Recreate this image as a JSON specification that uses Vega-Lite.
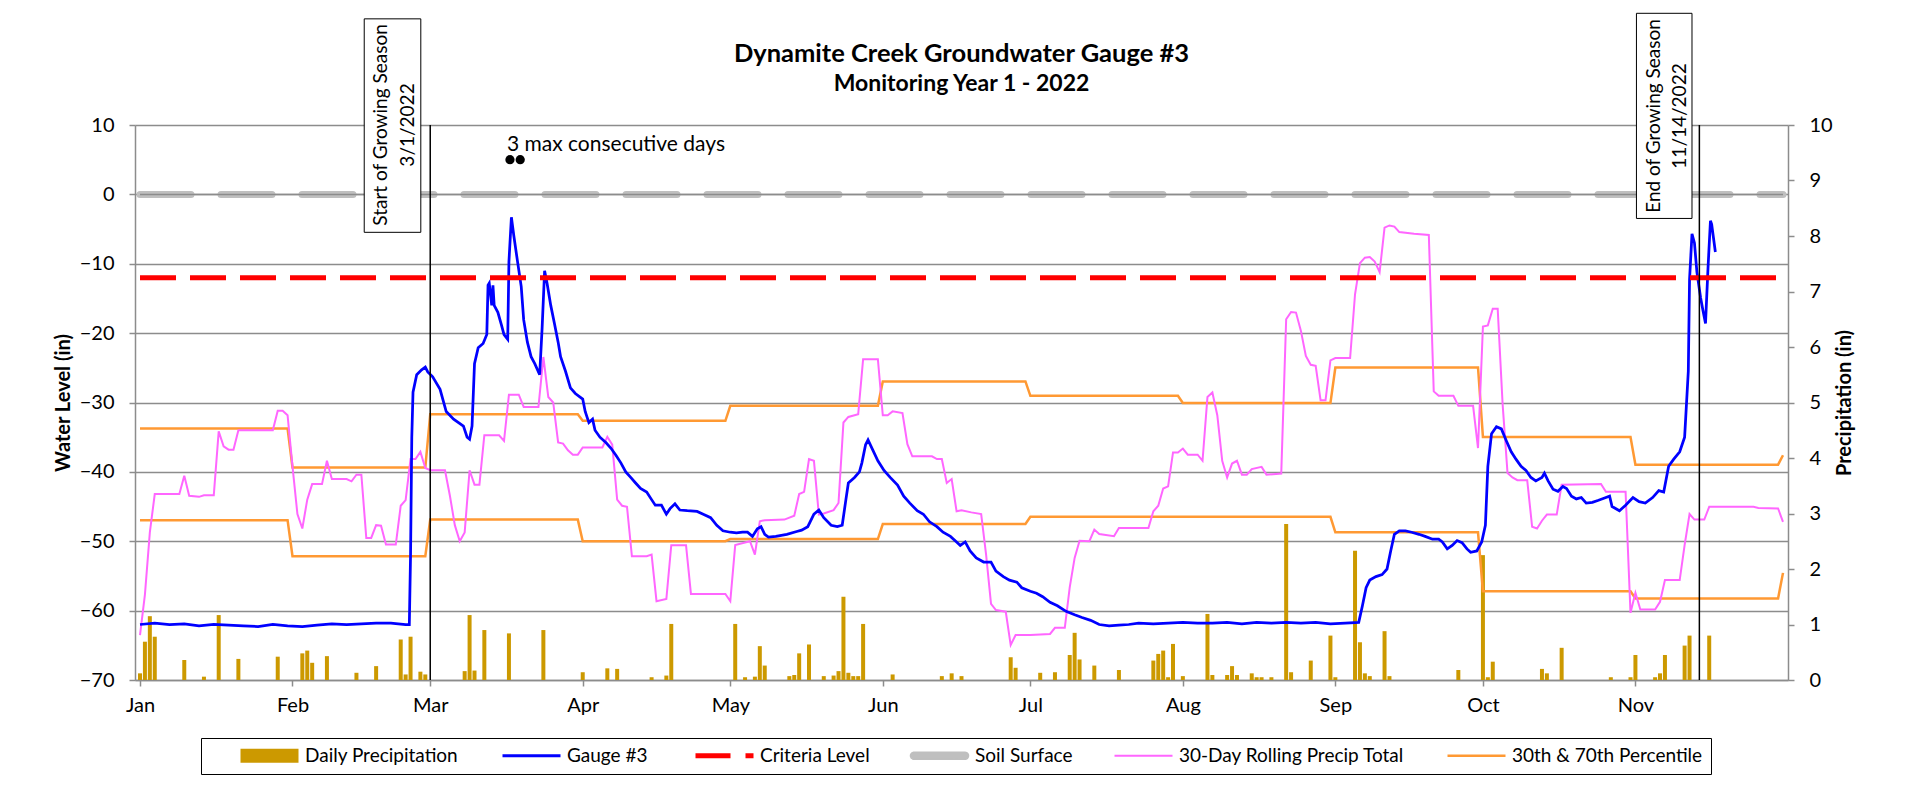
{
  "$schema": "https://vega.github.io/schema/vega-lite/v6.json",
  "width": 1653,
  "height": 555,
  "autosize": {"type": "none"},
  "padding": {"left": 135, "top": 125, "right": 143, "bottom": 108},
  "background": "white",
  "config": {"view": {"stroke": null}, "font": "Lato"},
  "title": {
    "text": "Dynamite Creek Groundwater Gauge #3",
    "subtitle": "Monitoring Year 1 - 2022",
    "anchor": "middle", "frame": "group",
    "font": "Lato", "fontSize": 25.5, "fontWeight": "bold", "color": "black",
    "subtitleFont": "Lato", "subtitleFontSize": 23, "subtitleFontWeight": "bold", "subtitleColor": "black",
    "subtitlePadding": 5, "offset": 0, "dy": 83
  },
  "datasets": {
    "gauge": [
      {"date":"2022-01-01T00:00Z","level":-62.0},{"date":"2022-01-04T00:00Z","level":-61.8},{"date":"2022-01-07T00:00Z","level":-62.0},{"date":"2022-01-10T00:00Z","level":-61.9},{"date":"2022-01-13T00:00Z","level":-62.2},{"date":"2022-01-16T00:00Z","level":-62.0},{"date":"2022-01-19T00:00Z","level":-62.1},{"date":"2022-01-22T00:00Z","level":-62.2},{"date":"2022-01-25T00:00Z","level":-62.3},{"date":"2022-01-28T00:00Z","level":-62.0},{"date":"2022-01-31T00:00Z","level":-62.2},{"date":"2022-02-03T00:00Z","level":-62.3},{"date":"2022-02-06T00:00Z","level":-62.1},{"date":"2022-02-09T00:00Z","level":-61.9},{"date":"2022-02-12T00:00Z","level":-62.0},{"date":"2022-02-15T00:00Z","level":-61.9},{"date":"2022-02-18T00:00Z","level":-61.8},{"date":"2022-02-21T00:00Z","level":-61.8},{"date":"2022-02-24T00:00Z","level":-62.0},{"date":"2022-02-24T18:00Z","level":-62.0},
      {"date":"2022-02-25T00:00Z","level":-52.0},{"date":"2022-02-25T06:00Z","level":-35.0},{"date":"2022-02-25T12:00Z","level":-28.5},{"date":"2022-02-26T06:00Z","level":-26.0},{"date":"2022-02-27T06:00Z","level":-25.3},{"date":"2022-02-28T00:00Z","level":-24.9},{"date":"2022-02-28T12:00Z","level":-25.6},{"date":"2022-03-01T12:00Z","level":-26.3},{"date":"2022-03-03T00:00Z","level":-28.1},{"date":"2022-03-04T06:00Z","level":-31.3},{"date":"2022-03-05T18:00Z","level":-32.4},{"date":"2022-03-07T18:00Z","level":-33.4},{"date":"2022-03-08T12:00Z","level":-35.0},{"date":"2022-03-09T00:00Z","level":-35.3},{"date":"2022-03-09T12:00Z","level":-33.4},{"date":"2022-03-10T00:00Z","level":-24.4},{"date":"2022-03-10T18:00Z","level":-22.1},{"date":"2022-03-11T18:00Z","level":-21.5},{"date":"2022-03-12T12:00Z","level":-20.2},{"date":"2022-03-12T18:00Z","level":-13.1},{"date":"2022-03-13T00:00Z","level":-12.8},{"date":"2022-03-13T12:00Z","level":-16.0},{"date":"2022-03-13T18:00Z","level":-13.1},{"date":"2022-03-14T00:00Z","level":-16.0},{"date":"2022-03-14T18:00Z","level":-17.0},{"date":"2022-03-15T12:00Z","level":-18.9},{"date":"2022-03-16T00:00Z","level":-20.2},{"date":"2022-03-16T18:00Z","level":-20.9},{"date":"2022-03-17T00:00Z","level":-9.7},{"date":"2022-03-17T12:00Z","level":-3.3},{"date":"2022-03-18T00:00Z","level":-6.0},{"date":"2022-03-18T18:00Z","level":-9.7},{"date":"2022-03-19T12:00Z","level":-13.3},{"date":"2022-03-20T00:00Z","level":-18.1},{"date":"2022-03-20T18:00Z","level":-21.3},{"date":"2022-03-21T12:00Z","level":-23.4},{"date":"2022-03-22T06:00Z","level":-24.4},{"date":"2022-03-23T06:00Z","level":-26.0},{"date":"2022-03-23T18:00Z","level":-19.2},{"date":"2022-03-24T06:00Z","level":-11.0},{"date":"2022-03-24T18:00Z","level":-12.8},{"date":"2022-03-25T12:00Z","level":-16.0},{"date":"2022-03-26T06:00Z","level":-18.6},{"date":"2022-03-27T00:00Z","level":-21.3},{"date":"2022-03-27T12:00Z","level":-23.4},{"date":"2022-03-28T12:00Z","level":-25.5},{"date":"2022-03-29T12:00Z","level":-27.9},{"date":"2022-03-30T12:00Z","level":-28.7},{"date":"2022-04-01T00:00Z","level":-29.5},{"date":"2022-04-01T12:00Z","level":-31.3},{"date":"2022-04-02T06:00Z","level":-32.9},{"date":"2022-04-03T00:00Z","level":-32.4},{"date":"2022-04-03T12:00Z","level":-34.0},{"date":"2022-04-04T12:00Z","level":-35.0},{"date":"2022-04-05T18:00Z","level":-35.8},{"date":"2022-04-06T18:00Z","level":-36.6},{"date":"2022-04-07T18:00Z","level":-37.6},{"date":"2022-04-08T18:00Z","level":-38.7},{"date":"2022-04-09T18:00Z","level":-40.0},{"date":"2022-04-10T18:00Z","level":-40.8},{"date":"2022-04-11T18:00Z","level":-41.6},{"date":"2022-04-12T18:00Z","level":-42.4},{"date":"2022-04-14T00:00Z","level":-42.9},{"date":"2022-04-15T00:00Z","level":-44.0},{"date":"2022-04-15T18:00Z","level":-44.8},{"date":"2022-04-17T00:00Z","level":-44.8},{"date":"2022-04-18T00:00Z","level":-46.1},{"date":"2022-04-18T18:00Z","level":-45.3},{"date":"2022-04-19T18:00Z","level":-44.6},{"date":"2022-04-20T18:00Z","level":-45.5},{"date":"2022-04-22T06:00Z","level":-45.6},{"date":"2022-04-24T06:00Z","level":-45.7},{"date":"2022-04-25T12:00Z","level":-46.1},{"date":"2022-04-27T00:00Z","level":-46.6},{"date":"2022-04-28T06:00Z","level":-47.7},{"date":"2022-04-29T12:00Z","level":-48.5},{"date":"2022-05-01T00:00Z","level":-48.7},{"date":"2022-05-02T06:00Z","level":-48.8},{"date":"2022-05-03T12:00Z","level":-48.7},{"date":"2022-05-04T12:00Z","level":-48.7},{"date":"2022-05-05T12:00Z","level":-49.3},{"date":"2022-05-06T12:00Z","level":-48.2},{"date":"2022-05-07T06:00Z","level":-47.9},{"date":"2022-05-08T00:00Z","level":-49.0},{"date":"2022-05-08T18:00Z","level":-49.4},{"date":"2022-05-10T06:00Z","level":-49.3},{"date":"2022-05-12T12:00Z","level":-49.0},{"date":"2022-05-14T12:00Z","level":-48.6},{"date":"2022-05-15T12:00Z","level":-48.4},{"date":"2022-05-16T18:00Z","level":-47.9},{"date":"2022-05-18T00:00Z","level":-46.1},{"date":"2022-05-19T00:00Z","level":-45.5},{"date":"2022-05-20T00:00Z","level":-46.6},{"date":"2022-05-21T12:00Z","level":-47.7},{"date":"2022-05-22T18:00Z","level":-47.9},{"date":"2022-05-23T18:00Z","level":-47.7},{"date":"2022-05-24T12:00Z","level":-44.0},{"date":"2022-05-25T00:00Z","level":-41.6},{"date":"2022-05-26T06:00Z","level":-40.8},{"date":"2022-05-27T06:00Z","level":-40.0},{"date":"2022-05-27T18:00Z","level":-38.7},{"date":"2022-05-28T12:00Z","level":-36.1},{"date":"2022-05-29T00:00Z","level":-35.4},{"date":"2022-05-30T00:00Z","level":-36.9},{"date":"2022-05-31T00:00Z","level":-38.4},{"date":"2022-06-01T06:00Z","level":-39.8},{"date":"2022-06-02T12:00Z","level":-40.8},{"date":"2022-06-04T00:00Z","level":-41.9},{"date":"2022-06-05T06:00Z","level":-43.5},{"date":"2022-06-06T12:00Z","level":-44.5},{"date":"2022-06-08T00:00Z","level":-45.6},{"date":"2022-06-09T06:00Z","level":-46.1},{"date":"2022-06-10T12:00Z","level":-47.2},{"date":"2022-06-12T00:00Z","level":-47.9},{"date":"2022-06-13T06:00Z","level":-48.7},{"date":"2022-06-14T18:00Z","level":-49.3},{"date":"2022-06-16T00:00Z","level":-50.1},{"date":"2022-06-16T18:00Z","level":-50.6},{"date":"2022-06-17T18:00Z","level":-50.1},{"date":"2022-06-18T18:00Z","level":-51.4},{"date":"2022-06-20T00:00Z","level":-52.4},{"date":"2022-06-21T12:00Z","level":-53.0},{"date":"2022-06-23T00:00Z","level":-53.0},{"date":"2022-06-24T00:00Z","level":-54.3},{"date":"2022-06-25T12:00Z","level":-55.1},{"date":"2022-06-26T18:00Z","level":-55.6},{"date":"2022-06-28T06:00Z","level":-55.9},{"date":"2022-06-29T06:00Z","level":-56.7},{"date":"2022-07-01T00:00Z","level":-57.2},{"date":"2022-07-02T06:00Z","level":-57.5},{"date":"2022-07-03T12:00Z","level":-58.0},{"date":"2022-07-05T00:00Z","level":-58.8},{"date":"2022-07-06T12:00Z","level":-59.3},{"date":"2022-07-08T06:00Z","level":-60.1},{"date":"2022-07-10T00:00Z","level":-60.6},{"date":"2022-07-11T12:00Z","level":-61.0},{"date":"2022-07-13T06:00Z","level":-61.4},{"date":"2022-07-15T00:00Z","level":-62.0},{"date":"2022-07-17T00:00Z","level":-62.2},{"date":"2022-07-19T00:00Z","level":-62.1},{"date":"2022-07-21T00:00Z","level":-62.0},{"date":"2022-07-23T00:00Z","level":-61.8},{"date":"2022-07-26T00:00Z","level":-61.9},{"date":"2022-07-29T00:00Z","level":-61.8},{"date":"2022-08-01T00:00Z","level":-61.7},{"date":"2022-08-04T00:00Z","level":-61.8},{"date":"2022-08-07T00:00Z","level":-61.8},{"date":"2022-08-10T00:00Z","level":-61.7},{"date":"2022-08-13T00:00Z","level":-61.9},{"date":"2022-08-16T00:00Z","level":-61.7},{"date":"2022-08-19T00:00Z","level":-61.8},{"date":"2022-08-22T00:00Z","level":-61.7},{"date":"2022-08-25T00:00Z","level":-61.8},{"date":"2022-08-28T00:00Z","level":-61.7},{"date":"2022-08-31T00:00Z","level":-61.9},{"date":"2022-09-03T00:00Z","level":-61.8},{"date":"2022-09-05T18:00Z","level":-61.7},{"date":"2022-09-06T12:00Z","level":-59.3},{"date":"2022-09-07T06:00Z","level":-56.7},{"date":"2022-09-08T00:00Z","level":-55.6},{"date":"2022-09-09T06:00Z","level":-55.1},{"date":"2022-09-10T12:00Z","level":-54.8},{"date":"2022-09-11T12:00Z","level":-54.0},{"date":"2022-09-12T06:00Z","level":-51.4},{"date":"2022-09-13T00:00Z","level":-49.0},{"date":"2022-09-14T00:00Z","level":-48.5},{"date":"2022-09-15T06:00Z","level":-48.5},{"date":"2022-09-16T12:00Z","level":-48.7},{"date":"2022-09-18T00:00Z","level":-49.0},{"date":"2022-09-19T06:00Z","level":-49.3},{"date":"2022-09-20T18:00Z","level":-49.7},{"date":"2022-09-22T00:00Z","level":-49.7},{"date":"2022-09-22T18:00Z","level":-50.1},{"date":"2022-09-23T18:00Z","level":-51.1},{"date":"2022-09-24T18:00Z","level":-50.6},{"date":"2022-09-25T18:00Z","level":-49.9},{"date":"2022-09-26T18:00Z","level":-50.2},{"date":"2022-09-27T18:00Z","level":-51.1},{"date":"2022-09-28T12:00Z","level":-51.6},{"date":"2022-09-29T18:00Z","level":-51.4},{"date":"2022-09-30T18:00Z","level":-50.1},{"date":"2022-10-01T12:00Z","level":-47.7},{"date":"2022-10-02T00:00Z","level":-39.2},{"date":"2022-10-02T18:00Z","level":-34.5},{"date":"2022-10-03T18:00Z","level":-33.5},{"date":"2022-10-04T18:00Z","level":-33.8},{"date":"2022-10-05T18:00Z","level":-35.5},{"date":"2022-10-06T18:00Z","level":-37.1},{"date":"2022-10-07T18:00Z","level":-38.2},{"date":"2022-10-08T18:00Z","level":-39.2},{"date":"2022-10-09T18:00Z","level":-39.8},{"date":"2022-10-10T18:00Z","level":-40.8},{"date":"2022-10-11T18:00Z","level":-41.3},{"date":"2022-10-13T00:00Z","level":-40.8},{"date":"2022-10-13T12:00Z","level":-40.2},{"date":"2022-10-14T06:00Z","level":-41.3},{"date":"2022-10-15T06:00Z","level":-42.5},{"date":"2022-10-16T06:00Z","level":-42.8},{"date":"2022-10-17T06:00Z","level":-42.1},{"date":"2022-10-18T00:00Z","level":-42.4},{"date":"2022-10-19T00:00Z","level":-43.5},{"date":"2022-10-20T00:00Z","level":-43.9},{"date":"2022-10-21T00:00Z","level":-43.7},{"date":"2022-10-22T00:00Z","level":-44.5},{"date":"2022-10-23T06:00Z","level":-44.4},{"date":"2022-10-24T12:00Z","level":-44.1},{"date":"2022-10-26T00:00Z","level":-43.7},{"date":"2022-10-26T18:00Z","level":-43.5},{"date":"2022-10-27T06:00Z","level":-45.0},{"date":"2022-10-28T18:00Z","level":-45.6},{"date":"2022-10-30T00:00Z","level":-44.8},{"date":"2022-10-31T12:00Z","level":-43.7},{"date":"2022-11-01T18:00Z","level":-44.3},{"date":"2022-11-03T00:00Z","level":-44.5},{"date":"2022-11-04T12:00Z","level":-43.7},{"date":"2022-11-05T18:00Z","level":-42.7},{"date":"2022-11-06T18:00Z","level":-42.9},{"date":"2022-11-07T18:00Z","level":-39.2},{"date":"2022-11-08T18:00Z","level":-38.2},{"date":"2022-11-10T00:00Z","level":-37.1},{"date":"2022-11-11T00:00Z","level":-35.0},{"date":"2022-11-11T18:00Z","level":-25.5},{"date":"2022-11-12T00:00Z","level":-12.3},{"date":"2022-11-12T12:00Z","level":-5.7},{"date":"2022-11-13T00:00Z","level":-7.0},{"date":"2022-11-13T12:00Z","level":-11.2},{"date":"2022-11-14T06:00Z","level":-14.9},{"date":"2022-11-14T18:00Z","level":-16.8},{"date":"2022-11-15T06:00Z","level":-18.6},{"date":"2022-11-15T18:00Z","level":-10.7},{"date":"2022-11-16T06:00Z","level":-3.8},{"date":"2022-11-16T12:00Z","level":-4.3},{"date":"2022-11-17T06:00Z","level":-8.3}
    ],
    "precip": [
      {"date":"2022-01-01","p":0.12},{"date":"2022-01-02","p":0.69},{"date":"2022-01-03","p":1.15},{"date":"2022-01-04","p":0.78},{"date":"2022-01-10","p":0.36},{"date":"2022-01-14","p":0.06},{"date":"2022-01-17","p":1.17},{"date":"2022-01-21","p":0.38},{"date":"2022-01-29","p":0.42},{"date":"2022-02-03","p":0.48},{"date":"2022-02-04","p":0.53},{"date":"2022-02-05","p":0.31},{"date":"2022-02-08","p":0.43},{"date":"2022-02-14","p":0.13},{"date":"2022-02-18","p":0.25},{"date":"2022-02-23","p":0.73},{"date":"2022-02-24","p":0.10},{"date":"2022-02-25","p":0.78},{"date":"2022-02-27","p":0.15},{"date":"2022-02-28","p":0.10},{"date":"2022-03-08","p":0.16},{"date":"2022-03-09","p":1.17},{"date":"2022-03-10","p":0.17},{"date":"2022-03-12","p":0.90},{"date":"2022-03-17","p":0.84},{"date":"2022-03-24","p":0.90},{"date":"2022-04-01","p":0.14},{"date":"2022-04-06","p":0.21},{"date":"2022-04-08","p":0.20},{"date":"2022-04-15","p":0.05},{"date":"2022-04-18","p":0.08},{"date":"2022-04-19","p":1.01},{"date":"2022-05-02","p":1.01},{"date":"2022-05-04","p":0.05},{"date":"2022-05-06","p":0.06},{"date":"2022-05-07","p":0.61},{"date":"2022-05-08","p":0.26},{"date":"2022-05-13","p":0.07},{"date":"2022-05-14","p":0.09},{"date":"2022-05-15","p":0.48},{"date":"2022-05-17","p":0.64},{"date":"2022-05-20","p":0.07},{"date":"2022-05-22","p":0.08},{"date":"2022-05-23","p":0.16},{"date":"2022-05-24","p":1.50},{"date":"2022-05-25","p":0.13},{"date":"2022-05-26","p":0.07},{"date":"2022-05-27","p":0.07},{"date":"2022-05-28","p":1.01},{"date":"2022-06-03","p":0.10},{"date":"2022-06-13","p":0.07},{"date":"2022-06-15","p":0.12},{"date":"2022-06-17","p":0.07},{"date":"2022-06-27","p":0.41},{"date":"2022-06-28","p":0.22},{"date":"2022-07-03","p":0.13},{"date":"2022-07-06","p":0.14},{"date":"2022-07-09","p":0.45},{"date":"2022-07-10","p":0.85},{"date":"2022-07-11","p":0.37},{"date":"2022-07-14","p":0.26},{"date":"2022-07-19","p":0.18},{"date":"2022-07-26","p":0.35},{"date":"2022-07-27","p":0.47},{"date":"2022-07-28","p":0.53},{"date":"2022-07-29","p":0.05},{"date":"2022-07-30","p":0.65},{"date":"2022-08-01","p":0.07},{"date":"2022-08-06","p":1.19},{"date":"2022-08-07","p":0.09},{"date":"2022-08-10","p":0.09},{"date":"2022-08-11","p":0.25},{"date":"2022-08-12","p":0.09},{"date":"2022-08-15","p":0.12},{"date":"2022-08-16","p":0.05},{"date":"2022-08-17","p":0.05},{"date":"2022-08-19","p":0.05},{"date":"2022-08-22","p":2.81},{"date":"2022-08-23","p":0.14},{"date":"2022-08-27","p":0.35},{"date":"2022-08-31","p":0.80},{"date":"2022-09-01","p":0.05},{"date":"2022-09-05","p":2.33},{"date":"2022-09-06","p":0.68},{"date":"2022-09-07","p":0.12},{"date":"2022-09-08","p":0.07},{"date":"2022-09-11","p":0.88},{"date":"2022-09-12","p":0.07},{"date":"2022-09-26","p":0.18},{"date":"2022-10-01","p":2.25},{"date":"2022-10-02","p":0.05},{"date":"2022-10-03","p":0.33},{"date":"2022-10-13","p":0.20},{"date":"2022-10-14","p":0.12},{"date":"2022-10-17","p":0.58},{"date":"2022-10-27","p":0.05},{"date":"2022-10-31","p":0.05},{"date":"2022-11-01","p":0.45},{"date":"2022-11-05","p":0.05},{"date":"2022-11-06","p":0.12},{"date":"2022-11-07","p":0.45},{"date":"2022-11-11","p":0.62},{"date":"2022-11-12","p":0.80},{"date":"2022-11-16","p":0.80}
    ],
    "rolling": [
      {"date":"2022-01-01","p":0.81},{"date":"2022-01-02","p":1.54},{"date":"2022-01-03","p":2.66},{"date":"2022-01-04","p":3.35},{"date":"2022-01-09","p":3.35},{"date":"2022-01-10","p":3.68},{"date":"2022-01-11","p":3.32},{"date":"2022-01-13","p":3.30},{"date":"2022-01-14","p":3.33},{"date":"2022-01-16","p":3.33},{"date":"2022-01-17","p":4.48},{"date":"2022-01-18","p":4.21},{"date":"2022-01-19","p":4.15},{"date":"2022-01-20","p":4.15},{"date":"2022-01-21","p":4.50},{"date":"2022-01-28","p":4.50},{"date":"2022-01-29","p":4.85},{"date":"2022-01-30","p":4.85},{"date":"2022-01-31","p":4.77},{"date":"2022-02-01","p":3.85},{"date":"2022-02-02","p":2.99},{"date":"2022-02-03","p":2.73},{"date":"2022-02-04","p":3.25},{"date":"2022-02-05","p":3.53},{"date":"2022-02-07","p":3.53},{"date":"2022-02-08","p":3.95},{"date":"2022-02-09","p":3.62},{"date":"2022-02-12","p":3.62},{"date":"2022-02-13","p":3.58},{"date":"2022-02-14","p":3.70},{"date":"2022-02-15","p":3.70},{"date":"2022-02-16","p":2.56},{"date":"2022-02-17","p":2.56},{"date":"2022-02-18","p":2.79},{"date":"2022-02-19","p":2.78},{"date":"2022-02-20","p":2.44},{"date":"2022-02-22","p":2.44},{"date":"2022-02-23","p":3.14},{"date":"2022-02-24","p":3.24},{"date":"2022-02-25","p":3.98},{"date":"2022-02-26","p":3.98},{"date":"2022-02-27","p":4.11},{"date":"2022-02-28","p":3.82},{"date":"2022-03-01","p":3.78},{"date":"2022-03-04","p":3.78},{"date":"2022-03-05","p":3.32},{"date":"2022-03-06","p":2.79},{"date":"2022-03-07","p":2.50},{"date":"2022-03-08","p":2.66},{"date":"2022-03-09","p":3.78},{"date":"2022-03-10","p":3.52},{"date":"2022-03-11","p":3.52},{"date":"2022-03-12","p":4.41},{"date":"2022-03-15","p":4.41},{"date":"2022-03-16","p":4.31},{"date":"2022-03-17","p":5.14},{"date":"2022-03-19","p":5.14},{"date":"2022-03-20","p":4.92},{"date":"2022-03-23","p":4.92},{"date":"2022-03-24","p":5.82},{"date":"2022-03-25","p":5.10},{"date":"2022-03-26","p":5.00},{"date":"2022-03-27","p":4.28},{"date":"2022-03-28","p":4.26},{"date":"2022-03-29","p":4.14},{"date":"2022-03-30","p":4.06},{"date":"2022-03-31","p":4.06},{"date":"2022-04-01","p":4.19},{"date":"2022-04-05","p":4.19},{"date":"2022-04-06","p":4.38},{"date":"2022-04-07","p":4.24},{"date":"2022-04-08","p":3.25},{"date":"2022-04-09","p":3.14},{"date":"2022-04-10","p":3.12},{"date":"2022-04-11","p":2.23},{"date":"2022-04-14","p":2.23},{"date":"2022-04-15","p":2.26},{"date":"2022-04-16","p":1.42},{"date":"2022-04-18","p":1.46},{"date":"2022-04-19","p":2.43},{"date":"2022-04-22","p":2.43},{"date":"2022-04-23","p":1.55},{"date":"2022-04-30","p":1.55},{"date":"2022-05-01","p":1.42},{"date":"2022-05-02","p":2.43},{"date":"2022-05-05","p":2.50},{"date":"2022-05-06","p":2.26},{"date":"2022-05-07","p":2.86},{"date":"2022-05-08","p":2.88},{"date":"2022-05-12","p":2.89},{"date":"2022-05-14","p":2.96},{"date":"2022-05-15","p":3.35},{"date":"2022-05-16","p":3.39},{"date":"2022-05-17","p":3.98},{"date":"2022-05-18","p":3.95},{"date":"2022-05-19","p":2.98},{"date":"2022-05-20","p":3.00},{"date":"2022-05-22","p":3.06},{"date":"2022-05-23","p":3.19},{"date":"2022-05-24","p":4.64},{"date":"2022-05-25","p":4.74},{"date":"2022-05-27","p":4.79},{"date":"2022-05-28","p":5.78},{"date":"2022-05-31","p":5.78},{"date":"2022-06-01","p":4.77},{"date":"2022-06-02","p":4.77},{"date":"2022-06-03","p":4.84},{"date":"2022-06-05","p":4.81},{"date":"2022-06-06","p":4.25},{"date":"2022-06-07","p":4.03},{"date":"2022-06-11","p":4.03},{"date":"2022-06-12","p":3.98},{"date":"2022-06-13","p":3.98},{"date":"2022-06-14","p":3.55},{"date":"2022-06-15","p":3.62},{"date":"2022-06-16","p":3.04},{"date":"2022-06-17","p":3.06},{"date":"2022-06-19","p":3.02},{"date":"2022-06-21","p":2.99},{"date":"2022-06-22","p":2.26},{"date":"2022-06-23","p":1.37},{"date":"2022-06-24","p":1.26},{"date":"2022-06-26","p":1.23},{"date":"2022-06-27","p":0.63},{"date":"2022-06-28","p":0.81},{"date":"2022-07-01","p":0.81},{"date":"2022-07-05","p":0.83},{"date":"2022-07-06","p":0.94},{"date":"2022-07-08","p":0.94},{"date":"2022-07-09","p":1.67},{"date":"2022-07-10","p":2.20},{"date":"2022-07-11","p":2.51},{"date":"2022-07-13","p":2.50},{"date":"2022-07-14","p":2.71},{"date":"2022-07-15","p":2.63},{"date":"2022-07-18","p":2.59},{"date":"2022-07-19","p":2.74},{"date":"2022-07-25","p":2.74},{"date":"2022-07-26","p":3.04},{"date":"2022-07-27","p":3.14},{"date":"2022-07-28","p":3.45},{"date":"2022-07-29","p":3.49},{"date":"2022-07-30","p":4.10},{"date":"2022-07-31","p":4.10},{"date":"2022-08-01","p":4.17},{"date":"2022-08-02","p":4.06},{"date":"2022-08-04","p":4.06},{"date":"2022-08-05","p":3.95},{"date":"2022-08-06","p":5.10},{"date":"2022-08-07","p":5.18},{"date":"2022-08-08","p":4.77},{"date":"2022-08-09","p":3.95},{"date":"2022-08-10","p":3.65},{"date":"2022-08-11","p":3.90},{"date":"2022-08-12","p":3.95},{"date":"2022-08-13","p":3.70},{"date":"2022-08-14","p":3.70},{"date":"2022-08-15","p":3.80},{"date":"2022-08-17","p":3.84},{"date":"2022-08-18","p":3.70},{"date":"2022-08-21","p":3.72},{"date":"2022-08-22","p":6.50},{"date":"2022-08-23","p":6.63},{"date":"2022-08-24","p":6.62},{"date":"2022-08-25","p":6.29},{"date":"2022-08-26","p":5.84},{"date":"2022-08-27","p":5.68},{"date":"2022-08-28","p":5.66},{"date":"2022-08-29","p":5.04},{"date":"2022-08-30","p":5.04},{"date":"2022-08-31","p":5.76},{"date":"2022-09-01","p":5.80},{"date":"2022-09-04","p":5.80},{"date":"2022-09-05","p":6.95},{"date":"2022-09-06","p":7.51},{"date":"2022-09-07","p":7.61},{"date":"2022-09-08","p":7.62},{"date":"2022-09-09","p":7.54},{"date":"2022-09-10","p":7.35},{"date":"2022-09-11","p":8.15},{"date":"2022-09-12","p":8.19},{"date":"2022-09-13","p":8.17},{"date":"2022-09-14","p":8.07},{"date":"2022-09-17","p":8.04},{"date":"2022-09-20","p":8.02},{"date":"2022-09-21","p":5.20},{"date":"2022-09-22","p":5.12},{"date":"2022-09-25","p":5.12},{"date":"2022-09-26","p":4.94},{"date":"2022-09-29","p":4.94},{"date":"2022-09-30","p":4.18},{"date":"2022-10-01","p":6.37},{"date":"2022-10-02","p":6.39},{"date":"2022-10-03","p":6.69},{"date":"2022-10-04","p":6.69},{"date":"2022-10-05","p":4.97},{"date":"2022-10-06","p":3.73},{"date":"2022-10-07","p":3.65},{"date":"2022-10-08","p":3.60},{"date":"2022-10-10","p":3.60},{"date":"2022-10-11","p":2.76},{"date":"2022-10-12","p":2.73},{"date":"2022-10-13","p":2.87},{"date":"2022-10-14","p":2.98},{"date":"2022-10-16","p":2.98},{"date":"2022-10-17","p":3.52},{"date":"2022-10-25","p":3.53},{"date":"2022-10-26","p":3.39},{"date":"2022-10-30","p":3.39},{"date":"2022-10-31","p":1.21},{"date":"2022-11-01","p":1.57},{"date":"2022-11-02","p":1.27},{"date":"2022-11-05","p":1.27},{"date":"2022-11-06","p":1.41},{"date":"2022-11-07","p":1.80},{"date":"2022-11-10","p":1.80},{"date":"2022-11-11","p":2.43},{"date":"2022-11-12","p":2.99},{"date":"2022-11-13","p":2.89},{"date":"2022-11-15","p":2.89},{"date":"2022-11-16","p":3.12},{"date":"2022-11-25","p":3.12},{"date":"2022-11-26","p":3.10},{"date":"2022-11-30","p":3.09},{"date":"2022-12-01","p":2.85}
    ],
    "pct": [
      {"date":"2022-01-01","p":4.53,"pct":"70th"},{"date":"2022-01-31","p":4.53,"pct":"70th"},{"date":"2022-02-01","p":3.83,"pct":"70th"},{"date":"2022-02-28","p":3.83,"pct":"70th"},{"date":"2022-03-01","p":4.79,"pct":"70th"},{"date":"2022-03-31","p":4.79,"pct":"70th"},{"date":"2022-04-01","p":4.67,"pct":"70th"},{"date":"2022-04-30","p":4.67,"pct":"70th"},{"date":"2022-05-01","p":4.94,"pct":"70th"},{"date":"2022-05-31","p":4.94,"pct":"70th"},{"date":"2022-06-01","p":5.38,"pct":"70th"},{"date":"2022-06-30","p":5.38,"pct":"70th"},{"date":"2022-07-01","p":5.12,"pct":"70th"},{"date":"2022-07-31","p":5.12,"pct":"70th"},{"date":"2022-08-01","p":4.99,"pct":"70th"},{"date":"2022-08-31","p":4.99,"pct":"70th"},{"date":"2022-09-01","p":5.63,"pct":"70th"},{"date":"2022-09-30","p":5.63,"pct":"70th"},{"date":"2022-10-01","p":4.38,"pct":"70th"},{"date":"2022-10-31","p":4.38,"pct":"70th"},{"date":"2022-11-01","p":3.88,"pct":"70th"},{"date":"2022-11-30","p":3.88,"pct":"70th"},{"date":"2022-12-01","p":4.05,"pct":"70th"},
      {"date":"2022-01-01","p":2.88,"pct":"30th"},{"date":"2022-01-31","p":2.88,"pct":"30th"},{"date":"2022-02-01","p":2.23,"pct":"30th"},{"date":"2022-02-28","p":2.23,"pct":"30th"},{"date":"2022-03-01","p":2.89,"pct":"30th"},{"date":"2022-03-31","p":2.89,"pct":"30th"},{"date":"2022-04-01","p":2.50,"pct":"30th"},{"date":"2022-04-30","p":2.50,"pct":"30th"},{"date":"2022-05-01","p":2.54,"pct":"30th"},{"date":"2022-05-31","p":2.54,"pct":"30th"},{"date":"2022-06-01","p":2.81,"pct":"30th"},{"date":"2022-06-30","p":2.81,"pct":"30th"},{"date":"2022-07-01","p":2.94,"pct":"30th"},{"date":"2022-07-31","p":2.94,"pct":"30th"},{"date":"2022-08-01","p":2.94,"pct":"30th"},{"date":"2022-08-31","p":2.94,"pct":"30th"},{"date":"2022-09-01","p":2.66,"pct":"30th"},{"date":"2022-09-30","p":2.66,"pct":"30th"},{"date":"2022-10-01","p":1.60,"pct":"30th"},{"date":"2022-10-31","p":1.60,"pct":"30th"},{"date":"2022-11-01","p":1.47,"pct":"30th"},{"date":"2022-11-30","p":1.47,"pct":"30th"},{"date":"2022-12-01","p":1.93,"pct":"30th"}
    ],
    "criteria": [{"date":"2022-01-01","level":-12},{"date":"2022-12-01","level":-12}],
    "soil": [{"date":"2022-01-01","level":0},{"date":"2022-12-01","level":0}],
    "season": [{"date":"2022-03-01","level":10,"level2":-70},{"date":"2022-11-14","level":10,"level2":-70}],
    "boxes": [{"date":"2022-02-15T14:00Z","date2":"2022-02-27T02:00Z","level":25.3,"level2":-5.47},{"date":"2022-11-01T05:00Z","date2":"2022-11-12T12:00Z","level":26.1,"level2":-3.47}],
    "boxText": [
      {"date":"2022-02-19T01:00Z","level":10.0,"label":"Start of Growing Season"},
      {"date":"2022-02-24T10:00Z","level":10.0,"label":"3/1/2022"},
      {"date":"2022-11-04T19:00Z","level":11.3,"label":"End of Growing Season"},
      {"date":"2022-11-10T00:00Z","level":11.3,"label":"11/14/2022"}
    ],
    "note": [{"date":"2022-03-16T14:00Z","level":6.2,"label":"3 max consecutive days"}],
    "dots": [{"date":"2022-03-17T05:00Z","level":5},{"date":"2022-03-19T07:00Z","level":5}]
  },
  "encoding": {
    "x": {
      "field": "date", "type": "temporal",
      "scale": {"type": "utc", "domain": [{"year": 2022, "month": 1, "date": 1, "utc": true}, {"year": 2022, "month": 12, "date": 1, "utc": true}]},
      "axis": {
        "title": null, "labelExpr": "utcFormat(datum.value, '%b')",
        "values": [
          {"year": 2022, "month": 1, "date": 1, "utc": true}, {"year": 2022, "month": 2, "date": 1, "utc": true},
          {"year": 2022, "month": 3, "date": 1, "utc": true}, {"year": 2022, "month": 4, "date": 1, "utc": true},
          {"year": 2022, "month": 5, "date": 1, "utc": true}, {"year": 2022, "month": 6, "date": 1, "utc": true},
          {"year": 2022, "month": 7, "date": 1, "utc": true}, {"year": 2022, "month": 8, "date": 1, "utc": true},
          {"year": 2022, "month": 9, "date": 1, "utc": true}, {"year": 2022, "month": 10, "date": 1, "utc": true},
          {"year": 2022, "month": 11, "date": 1, "utc": true}
        ],
        "labelFont": "Lato", "labelFontSize": 20, "labelColor": "black", "labelPadding": 9, "labelFlush": false,
        "tickColor": "#8c8c8c", "tickSize": 6, "tickWidth": 1.5, "domainColor": "#8c8c8c", "domainWidth": 1.5, "grid": false
      }
    }
  },
  "layer": [
    {
      "encoding": {
        "y": {
          "field": "p", "type": "quantitative",
          "scale": {"domain": [0, 10], "nice": false, "zero": false},
          "axis": {
            "orient": "right", "values": [0,1,2,3,4,5,6,7,8,9,10], "grid": false,
            "title": "Precipitation (in)", "titleAngle": 270, "titleFont": "Lato", "titleFontSize": 20, "titleFontWeight": "bold", "titleColor": "black", "titlePadding": 22,
            "labelFont": "Lato", "labelFontSize": 20, "labelColor": "black", "labelPadding": 15,
            "tickColor": "#8c8c8c", "tickSize": 6, "tickWidth": 1.5, "domainColor": "#8c8c8c", "domainWidth": 1.5
          }
        }
      },
      "layer": [
        {
          "data": {"name": "precip"},
          "mark": {"type": "bar", "size": 4},
          "encoding": {
            "color": {
              "datum": "Daily Precipitation",
              "scale": {
                "domain": ["Daily Precipitation", "Gauge #3", "Criteria Level", "Soil Surface", "30-Day Rolling Precip Total", "30th & 70th Percentile"],
                "range": ["#cc9900", "#0000ff", "#ff0000", "#bfbfbf", "#ff66ff", "#ff9933"]
              },
              "legend": {
                "orient": "none", "legendX": 66, "legendY": 613, "direction": "horizontal", "columns": 6,
                "title": "\u00a0", "titleOrient": "left", "titlePadding": 32, "titleFontSize": 19,
                "strokeColor": "black", "padding": 8, "fillColor": "white",
                "labelFont": "Lato", "labelFontSize": 19, "labelColor": "black", "labelOffset": 45, "columnPadding": 37, "labelLimit": 500,
                "symbolSize": 400,
                "labelExpr": "datum.label === '30th & 70th Percentile' ? datum.label + '\u00a0\u00a0\u00a0\u00a0\u00a0' : datum.label",
                "encode": {
                  "symbols": {
                    "update": {
                      "size": {"value": 400},
                      "opacity": {"value": 1},
                      "shape": {"signal": "datum.value === 'Daily Precipitation' ? 'M-1,-0.7H4.8V0.7H-1Z' : datum.value === 'Soil Surface' ? 'M-0.65,-0.35H4.45A0.35,0.35 0 0 1 4.45,0.35H-0.65A0.35,0.35 0 0 1 -0.65,-0.35Z' : 'M-1,0H4.8'"},
                      "fill": {"signal": "datum.value === 'Daily Precipitation' ? '#cc9900' : datum.value === 'Soil Surface' ? '#ffffff' : 'transparent'"},
                      "fillOpacity": {"value": 1},
                      "stroke": {"signal": "datum.value === 'Daily Precipitation' ? 'transparent' : datum.value === 'Gauge #3' ? '#0000ff' : datum.value === 'Criteria Level' ? '#ff0000' : datum.value === 'Soil Surface' ? '#a6a6a6' : datum.value === '30-Day Rolling Precip Total' ? '#ff66ff' : '#ff9933'"},
                      "strokeWidth": {"signal": "datum.value === 'Gauge #3' ? 3 : datum.value === 'Criteria Level' ? 5 : datum.value === 'Soil Surface' ? 1.5 : datum.value === '30th & 70th Percentile' ? 2.5 : datum.value === 'Daily Precipitation' ? 0 : 2"},
                      "strokeDash": {"signal": "datum.value === 'Criteria Level' ? [35, 15] : [1, 0]"}
                    }
                  }
                }
              }
            }
          }
        },
        {
          "data": {"name": "pct"},
          "mark": {"type": "line", "strokeWidth": 2.5},
          "encoding": {"detail": {"field": "pct"}, "color": {"datum": "30th & 70th Percentile"}}
        },
        {
          "data": {"name": "rolling"},
          "mark": {"type": "line", "strokeWidth": 2},
          "encoding": {"color": {"datum": "30-Day Rolling Precip Total"}}
        }
      ]
    },
    {
      "encoding": {
        "y": {
          "field": "level", "type": "quantitative",
          "scale": {"domain": [-70, 10], "nice": false, "zero": false},
          "axis": {
            "orient": "left", "values": [-70,-60,-50,-40,-30,-20,-10,0,10], "grid": true, "gridColor": "#8c8c8c", "gridWidth": 1.5,
            "title": "Water Level (in)", "titleFont": "Lato", "titleFontSize": 20, "titleFontWeight": "bold", "titleColor": "black", "titlePadding": 6,
            "labelFont": "Lato", "labelFontSize": 20, "labelColor": "black", "labelPadding": 15,
            "tickColor": "#8c8c8c", "tickSize": 6, "tickWidth": 1.5, "domainColor": "#8c8c8c", "domainWidth": 1.5
          }
        }
      },
      "layer": [
        {
          "data": {"name": "gauge"},
          "mark": {"type": "line", "strokeWidth": 2.75},
          "encoding": {"color": {"datum": "Gauge #3"}}
        },
        {
          "data": {"name": "criteria"},
          "mark": {"type": "line", "strokeWidth": 5, "strokeDash": [36, 14]},
          "encoding": {"color": {"datum": "Criteria Level"}}
        },
        {
          "data": {"name": "soil"},
          "mark": {"type": "line", "strokeWidth": 7, "strokeCap": "round", "strokeDash": [51, 30]},
          "encoding": {"color": {"datum": "Soil Surface"}}
        },
        {
          "data": {"name": "soil"},
          "mark": {"type": "line", "strokeWidth": 1.5, "color": "#8c8c8c"},
          "encoding": {}
        },
        {
          "data": {"name": "season"},
          "mark": {"type": "rule", "strokeWidth": 1.5, "color": "black"},
          "encoding": {"y2": {"field": "level2"}}
        },
        {
          "data": {"name": "boxes"},
          "mark": {"type": "rect", "fill": "white", "stroke": "black", "strokeWidth": 1},
          "encoding": {"x2": {"field": "date2"}, "y2": {"field": "level2"}}
        },
        {
          "data": {"name": "boxText"},
          "mark": {"type": "text", "angle": 270, "align": "center", "baseline": "middle", "font": "Lato", "fontSize": 19, "color": "black"},
          "encoding": {"text": {"field": "label"}}
        },
        {
          "data": {"name": "note"},
          "mark": {"type": "text", "align": "left", "baseline": "alphabetic", "font": "Lato", "fontSize": 21, "color": "black"},
          "encoding": {"text": {"field": "label"}}
        },
        {
          "data": {"name": "dots"},
          "mark": {"type": "point", "filled": true, "size": 85, "color": "black", "opacity": 1},
          "encoding": {}
        }
      ]
    }
  ],
  "resolve": {"scale": {"y": "independent"}}
}
